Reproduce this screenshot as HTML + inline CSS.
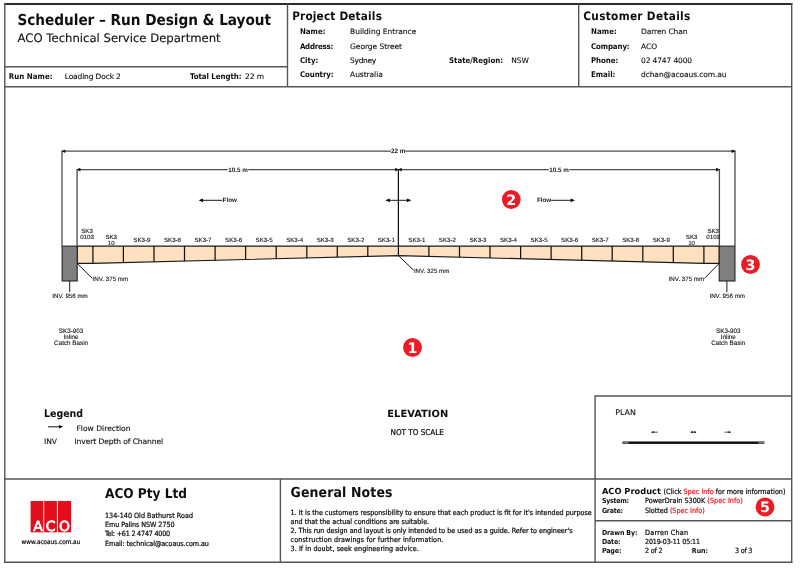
<!DOCTYPE html>
<html lang="en">
<head>
<meta charset="utf-8">
<title>Scheduler – Run Design &amp; Layout</title>
<style>
html,body{margin:0;padding:0;background:#fff;}
body{width:800px;height:568px;position:relative;overflow:hidden;color:#0e0e0e;font-family:"DejaVu Sans","Liberation Sans",sans-serif;}
.sheet{position:absolute;left:0;top:0;width:800px;height:568px;text-rendering:geometricPrecision;will-change:transform;}
header,main,footer{display:block;position:static;margin:0;padding:0;}
.t{position:absolute;white-space:nowrap;line-height:normal;margin:0;padding:0;}
svg{position:absolute;left:0;top:0;}
svg .dt{font-family:"Liberation Sans","DejaVu Sans",sans-serif;fill:#161616;stroke:#161616;stroke-width:0.12px;}
svg .dtb{font-weight:700;stroke-width:0;}
svg .mk{font-family:"DejaVu Sans","Liberation Sans",sans-serif;font-weight:700;fill:#fff;}
svg .lg{font-family:"DejaVu Sans","Liberation Sans",sans-serif;fill:#fff;stroke:#fff;stroke-width:0.7px;}
</style>
</head>
<body>
<div class="sheet">

<svg width="800" height="568" viewBox="0 0 800 568">
<line x1="4.3" y1="4.0" x2="792.4" y2="4.0" stroke="#2b2b2b" stroke-width="2.1"/>
<line x1="4.1" y1="562.3" x2="792.4" y2="562.3" stroke="#555" stroke-width="1.4"/>
<line x1="4.8" y1="3" x2="4.8" y2="563" stroke="#555" stroke-width="1.4"/>
<line x1="791.7" y1="3" x2="791.7" y2="563" stroke="#555" stroke-width="1.4"/>
<line x1="4.8" y1="86.7" x2="791.7" y2="86.7" stroke="#555" stroke-width="1.4"/>
<line x1="4.8" y1="66.7" x2="287.5" y2="66.7" stroke="#555" stroke-width="1.4"/>
<line x1="287.5" y1="4" x2="287.5" y2="86.7" stroke="#555" stroke-width="1.4"/>
<line x1="578.7" y1="4" x2="578.7" y2="86.7" stroke="#555" stroke-width="1.4"/>
<line x1="4.8" y1="479.0" x2="791.7" y2="479.0" stroke="#555" stroke-width="1.4"/>
<line x1="280.4" y1="479.0" x2="280.4" y2="562.3" stroke="#555" stroke-width="1.4"/>
<line x1="595.1" y1="395.3" x2="595.1" y2="562.3" stroke="#555" stroke-width="1.4"/>
<line x1="595.1" y1="396" x2="791.7" y2="396" stroke="#555" stroke-width="1.4"/>
<line x1="595.1" y1="520.8" x2="791.7" y2="520.8" stroke="#555" stroke-width="1.4"/>
<polygon points="77.2,246.1 719.2,246.1 719.2,263.4 703.9,263.4 398.4,255.6 92.9,263.4 77.2,263.4" fill="#fde0c0" stroke="#1a1a1a" stroke-width="1.1" stroke-linejoin="miter"/>
<line x1="367.8" y1="246.1" x2="367.8" y2="256.4" stroke="#111" stroke-width="1.25"/>
<line x1="428.9" y1="246.1" x2="428.9" y2="256.4" stroke="#111" stroke-width="1.25"/>
<line x1="337.3" y1="246.1" x2="337.3" y2="257.2" stroke="#111" stroke-width="1.25"/>
<line x1="459.5" y1="246.1" x2="459.5" y2="257.2" stroke="#111" stroke-width="1.25"/>
<line x1="306.8" y1="246.1" x2="306.8" y2="257.9" stroke="#111" stroke-width="1.25"/>
<line x1="490.0" y1="246.1" x2="490.0" y2="257.9" stroke="#111" stroke-width="1.25"/>
<line x1="276.2" y1="246.1" x2="276.2" y2="258.7" stroke="#111" stroke-width="1.25"/>
<line x1="520.6" y1="246.1" x2="520.6" y2="258.7" stroke="#111" stroke-width="1.25"/>
<line x1="245.6" y1="246.1" x2="245.6" y2="259.5" stroke="#111" stroke-width="1.25"/>
<line x1="551.1" y1="246.1" x2="551.1" y2="259.5" stroke="#111" stroke-width="1.25"/>
<line x1="215.1" y1="246.1" x2="215.1" y2="260.3" stroke="#111" stroke-width="1.25"/>
<line x1="581.7" y1="246.1" x2="581.7" y2="260.3" stroke="#111" stroke-width="1.25"/>
<line x1="184.5" y1="246.1" x2="184.5" y2="261.1" stroke="#111" stroke-width="1.25"/>
<line x1="612.2" y1="246.1" x2="612.2" y2="261.1" stroke="#111" stroke-width="1.25"/>
<line x1="154.0" y1="246.1" x2="154.0" y2="261.8" stroke="#111" stroke-width="1.25"/>
<line x1="642.8" y1="246.1" x2="642.8" y2="261.8" stroke="#111" stroke-width="1.25"/>
<line x1="123.4" y1="246.1" x2="123.4" y2="262.6" stroke="#111" stroke-width="1.25"/>
<line x1="673.3" y1="246.1" x2="673.3" y2="262.6" stroke="#111" stroke-width="1.25"/>
<line x1="92.9" y1="246.1" x2="92.9" y2="263.4" stroke="#111" stroke-width="1.25"/>
<line x1="703.9" y1="246.1" x2="703.9" y2="263.4" stroke="#111" stroke-width="1.25"/>
<rect x="62.1" y="246.1" width="15.1" height="34.9" fill="#7f7f7f" stroke="#1a1a1a" stroke-width="1"/>
<rect x="719.2" y="246.1" width="15.8" height="34.9" fill="#7f7f7f" stroke="#1a1a1a" stroke-width="1"/>
<line x1="62.0" y1="150.6" x2="62.0" y2="246.1" stroke="#4c4c4c" stroke-width="1.3"/>
<line x1="735.0" y1="150.6" x2="735.0" y2="246.1" stroke="#4c4c4c" stroke-width="1.3"/>
<line x1="77.1" y1="169" x2="77.1" y2="246.1" stroke="#4c4c4c" stroke-width="1.3"/>
<line x1="719.4" y1="169" x2="719.4" y2="246.1" stroke="#4c4c4c" stroke-width="1.3"/>
<line x1="398.4" y1="169.6" x2="398.4" y2="255.6" stroke="#111" stroke-width="1.25"/>
<line x1="62.0" y1="151.2" x2="735.0" y2="151.2" stroke="#4c4c4c" stroke-width="1.3"/>
<line x1="77.1" y1="169.6" x2="719.4" y2="169.6" stroke="#4c4c4c" stroke-width="1.3"/>
<polygon points="61.6,151.2 65.3,149.39999999999998 65.3,153.0" fill="#0c0c0c"/>
<polygon points="735.4,151.2 731.7,149.39999999999998 731.7,153.0" fill="#0c0c0c"/>
<polygon points="76.7,169.6 80.4,167.79999999999998 80.4,171.4" fill="#0c0c0c"/>
<polygon points="398.6,169.6 395.1,167.7 395.1,171.5" fill="#0c0c0c"/>
<polygon points="398.2,169.6 401.7,167.7 401.7,171.5" fill="#0c0c0c"/>
<polygon points="719.8,169.6 716.0,167.79999999999998 716.0,171.4" fill="#0c0c0c"/>
<rect x="390.9" y="147.2" width="14.5" height="8" fill="#fff"/>
<text x="398.2" y="152.7" text-anchor="middle" class="dt dtb" font-size="6.3">22 m</text>
<rect x="227.7" y="165.6" width="20.5" height="8" fill="#fff"/>
<text x="238.0" y="171.9" text-anchor="middle" class="dt dtb" font-size="6.3">10.5 m</text>
<rect x="548.8" y="165.6" width="20.5" height="8" fill="#fff"/>
<text x="559.0" y="171.9" text-anchor="middle" class="dt dtb" font-size="6.3">10.5 m</text>
<line x1="200" y1="200.3" x2="222.3" y2="200.3" stroke="#1a1a1a" stroke-width="1"/>
<polygon points="198.6,200.3 203.0,198.4 203.0,202.20000000000002" fill="#0c0c0c"/>
<text x="222.6" y="202.3" class="dt dtb" font-size="6.3">Flow</text>
<line x1="551.2" y1="200.3" x2="573" y2="200.3" stroke="#1a1a1a" stroke-width="1"/>
<polygon points="575.0,200.3 570.6,198.4 570.6,202.20000000000002" fill="#0c0c0c"/>
<text x="536.9" y="202.3" class="dt dtb" font-size="6.3">Flow</text>
<line x1="387" y1="200.3" x2="410" y2="200.3" stroke="#1a1a1a" stroke-width="1"/>
<polygon points="385.4,200.3 389.8,198.4 389.8,202.20000000000002" fill="#0c0c0c"/>
<polygon points="411.3,200.3 406.9,198.4 406.9,202.20000000000002" fill="#0c0c0c"/>
<text x="386.3" y="242.3" text-anchor="middle" class="dt" font-size="6.15">SK3-1</text>
<text x="416.9" y="242.3" text-anchor="middle" class="dt" font-size="6.15">SK3-1</text>
<text x="355.8" y="242.3" text-anchor="middle" class="dt" font-size="6.15">SK3-2</text>
<text x="447.4" y="242.3" text-anchor="middle" class="dt" font-size="6.15">SK3-2</text>
<text x="325.2" y="242.3" text-anchor="middle" class="dt" font-size="6.15">SK3-3</text>
<text x="478.0" y="242.3" text-anchor="middle" class="dt" font-size="6.15">SK3-3</text>
<text x="294.7" y="242.3" text-anchor="middle" class="dt" font-size="6.15">SK3-4</text>
<text x="508.5" y="242.3" text-anchor="middle" class="dt" font-size="6.15">SK3-4</text>
<text x="264.1" y="242.3" text-anchor="middle" class="dt" font-size="6.15">SK3-5</text>
<text x="539.1" y="242.3" text-anchor="middle" class="dt" font-size="6.15">SK3-5</text>
<text x="233.6" y="242.3" text-anchor="middle" class="dt" font-size="6.15">SK3-6</text>
<text x="569.6" y="242.3" text-anchor="middle" class="dt" font-size="6.15">SK3-6</text>
<text x="203.0" y="242.3" text-anchor="middle" class="dt" font-size="6.15">SK3-7</text>
<text x="600.2" y="242.3" text-anchor="middle" class="dt" font-size="6.15">SK3-7</text>
<text x="172.5" y="242.3" text-anchor="middle" class="dt" font-size="6.15">SK3-8</text>
<text x="630.7" y="242.3" text-anchor="middle" class="dt" font-size="6.15">SK3-8</text>
<text x="141.9" y="242.3" text-anchor="middle" class="dt" font-size="6.15">SK3-9</text>
<text x="661.3" y="242.3" text-anchor="middle" class="dt" font-size="6.15">SK3-9</text>
<text x="111.2" y="238.6" text-anchor="middle" class="dt" font-size="6.15">SK3</text>
<text x="111.2" y="244.5" text-anchor="middle" class="dt" font-size="6.15">10</text>
<text x="87.0" y="232.7" text-anchor="middle" class="dt" font-size="6.15">SK3</text>
<text x="87.0" y="238.6" text-anchor="middle" class="dt" font-size="6.15">0103</text>
<text x="691.6" y="238.6" text-anchor="middle" class="dt" font-size="6.15">SK3</text>
<text x="691.6" y="244.5" text-anchor="middle" class="dt" font-size="6.15">10</text>
<text x="713.2" y="232.7" text-anchor="middle" class="dt" font-size="6.15">SK3</text>
<text x="713.2" y="238.6" text-anchor="middle" class="dt" font-size="6.15">0103</text>
<polyline points="398.4,255.6 413.7,270.3" fill="none" stroke="#1a1a1a" stroke-width="1"/>
<text x="413.9" y="272.6" class="dt" font-size="6.2">INV. 325 mm</text>
<polyline points="77.2,263.4 92.4,278.5" fill="none" stroke="#1a1a1a" stroke-width="1"/>
<text x="92.6" y="280.8" class="dt" font-size="6.2">INV. 375 mm</text>
<polyline points="719.2,263.4 704.4,278.5" fill="none" stroke="#1a1a1a" stroke-width="1"/>
<text x="704.2" y="280.8" text-anchor="end" class="dt" font-size="6.2">INV. 375 mm</text>
<line x1="69.7" y1="281" x2="69.7" y2="292" stroke="#1a1a1a" stroke-width="1"/>
<text x="70.0" y="297.5" text-anchor="middle" class="dt" font-size="6.2">INV. 956 mm</text>
<text x="71.1" y="333.2" text-anchor="middle" class="dt" font-size="6.3">SK3-903</text>
<text x="71.1" y="339.3" text-anchor="middle" class="dt" font-size="6.3">Inline</text>
<text x="71.1" y="345.4" text-anchor="middle" class="dt" font-size="6.3">Catch Basin</text>
<line x1="726.9" y1="281" x2="726.9" y2="292" stroke="#1a1a1a" stroke-width="1"/>
<text x="727.2" y="297.5" text-anchor="middle" class="dt" font-size="6.2">INV. 956 mm</text>
<text x="728.3" y="333.2" text-anchor="middle" class="dt" font-size="6.3">SK3-903</text>
<text x="728.3" y="339.3" text-anchor="middle" class="dt" font-size="6.3">Inline</text>
<text x="728.3" y="345.4" text-anchor="middle" class="dt" font-size="6.3">Catch Basin</text>
<circle cx="412.5" cy="347.5" r="9.4" fill="#ea1c26"/>
<text x="412.5" y="352.8" text-anchor="middle" class="mk" font-size="14.3">1</text>
<circle cx="511.3" cy="199.5" r="9.4" fill="#ea1c26"/>
<text x="511.3" y="204.8" text-anchor="middle" class="mk" font-size="14.3">2</text>
<circle cx="750.5" cy="264.5" r="9.4" fill="#ea1c26"/>
<text x="750.5" y="269.8" text-anchor="middle" class="mk" font-size="14.3">3</text>
<circle cx="765" cy="507" r="9.4" fill="#ea1c26"/>
<text x="765" y="512.3" text-anchor="middle" class="mk" font-size="14.3">5</text>
<line x1="48" y1="426.8" x2="60" y2="426.8" stroke="#111" stroke-width="1"/>
<polygon points="63.2,426.8 59.0,425.0 59.0,428.6" fill="#0c0c0c"/>
<rect x="622.5" y="441.5" width="141.8" height="2.4" fill="#0a0a0a"/>
<rect x="622.5" y="441.7" width="6" height="2" fill="#777"/><rect x="758.3" y="441.7" width="6" height="2" fill="#777"/>
<line x1="651.8000000000001" y1="432.15" x2="657.9" y2="432.15" stroke="#333" stroke-width="0.9"/>
<polygon points="651.2,432.15 653.5,431.09999999999997 653.5,433.2" fill="#0c0c0c"/>
<line x1="690.9" y1="432.15" x2="695.9" y2="432.15" stroke="#333" stroke-width="0.9"/>
<polygon points="690.3,432.15 692.6,431.09999999999997 692.6,433.2" fill="#0c0c0c"/>
<polygon points="696.5,432.15 694.2,431.09999999999997 694.2,433.2" fill="#0c0c0c"/>
<line x1="724.6" y1="432.15" x2="730.4" y2="432.15" stroke="#333" stroke-width="0.9"/>
<polygon points="731.0,432.15 728.7,431.09999999999997 728.7,433.2" fill="#0c0c0c"/>
<rect x="30.6" y="501" width="12.7" height="31.3" fill="#e30d1c"/>
<rect x="44.2" y="501" width="12.7" height="31.3" fill="#e30d1c"/>
<rect x="57.9" y="501" width="13.2" height="31.3" fill="#e30d1c"/>
<text x="38.0" y="531.0" text-anchor="middle" class="lg" font-size="13.9">A</text>
<text x="50.7" y="531.0" text-anchor="middle" class="lg" font-size="13.9">C</text>
<text x="64.5" y="531.0" text-anchor="middle" class="lg" font-size="13.9">O</text>
</svg>

<header>
<span class="t" style="left:17.50px;top:11.00px;font-family:'DejaVu Sans Condensed','DejaVu Sans','Liberation Sans',sans-serif;font-size:15.2px;font-stretch:condensed;font-weight:700;letter-spacing:-0.035px;">Scheduler – Run Design &amp; Layout</span>
<span class="t" style="left:17.60px;top:31.00px;font-family:'DejaVu Sans','Liberation Sans',sans-serif;font-size:11.65px;-webkit-text-stroke:0.12px;">ACO Technical Service Department</span>
<span class="t" style="left:8.75px;top:72.00px;font-family:'DejaVu Sans Condensed','DejaVu Sans','Liberation Sans',sans-serif;font-size:7.8px;font-stretch:condensed;font-weight:700;letter-spacing:0.065px;">Run Name:</span>
<span class="t" style="left:64.75px;top:72.00px;font-family:'DejaVu Sans','Liberation Sans',sans-serif;font-size:7.5px;letter-spacing:-0.141px;-webkit-text-stroke:0.12px;">Loading Dock 2</span>
<span class="t" style="left:190.00px;top:72.00px;font-family:'DejaVu Sans Condensed','DejaVu Sans','Liberation Sans',sans-serif;font-size:7.8px;font-stretch:condensed;font-weight:700;letter-spacing:-0.031px;">Total Length:</span>
<span class="t" style="left:245.00px;top:72.00px;font-family:'DejaVu Sans','Liberation Sans',sans-serif;font-size:7.5px;letter-spacing:-0.059px;-webkit-text-stroke:0.12px;">22 m</span>
<span class="t" style="left:292.20px;top:9.00px;font-family:'DejaVu Sans Condensed','DejaVu Sans','Liberation Sans',sans-serif;font-size:11.7px;font-stretch:condensed;font-weight:700;letter-spacing:0.179px;">Project Details</span>
<span class="t" style="left:299.90px;top:27.00px;font-family:'DejaVu Sans Condensed','DejaVu Sans','Liberation Sans',sans-serif;font-size:7.8px;font-stretch:condensed;font-weight:700;letter-spacing:0.043px;">Name:</span>
<span class="t" style="left:350.10px;top:27.00px;font-family:'DejaVu Sans','Liberation Sans',sans-serif;font-size:7.5px;letter-spacing:-0.013px;-webkit-text-stroke:0.12px;">Building Entrance</span>
<span class="t" style="left:299.90px;top:42.00px;font-family:'DejaVu Sans Condensed','DejaVu Sans','Liberation Sans',sans-serif;font-size:7.8px;font-stretch:condensed;font-weight:700;letter-spacing:-0.207px;">Address:</span>
<span class="t" style="left:350.10px;top:42.00px;font-family:'DejaVu Sans','Liberation Sans',sans-serif;font-size:7.5px;letter-spacing:-0.055px;-webkit-text-stroke:0.12px;">George Street</span>
<span class="t" style="left:299.90px;top:56.00px;font-family:'DejaVu Sans Condensed','DejaVu Sans','Liberation Sans',sans-serif;font-size:7.8px;font-stretch:condensed;font-weight:700;letter-spacing:0.041px;">City:</span>
<span class="t" style="left:350.10px;top:56.00px;font-family:'DejaVu Sans','Liberation Sans',sans-serif;font-size:7.5px;letter-spacing:-0.314px;-webkit-text-stroke:0.12px;">Sydney</span>
<span class="t" style="left:299.90px;top:70.00px;font-family:'DejaVu Sans Condensed','DejaVu Sans','Liberation Sans',sans-serif;font-size:7.8px;font-stretch:condensed;font-weight:700;letter-spacing:-0.057px;">Country:</span>
<span class="t" style="left:350.10px;top:70.00px;font-family:'DejaVu Sans','Liberation Sans',sans-serif;font-size:7.5px;letter-spacing:-0.065px;-webkit-text-stroke:0.12px;">Australia</span>
<span class="t" style="left:449.00px;top:56.00px;font-family:'DejaVu Sans Condensed','DejaVu Sans','Liberation Sans',sans-serif;font-size:7.8px;font-stretch:condensed;font-weight:700;">State/Region:</span>
<span class="t" style="left:511.20px;top:56.00px;font-family:'DejaVu Sans','Liberation Sans',sans-serif;font-size:7.5px;-webkit-text-stroke:0.12px;">NSW</span>
<span class="t" style="left:583.30px;top:9.00px;font-family:'DejaVu Sans Condensed','DejaVu Sans','Liberation Sans',sans-serif;font-size:11.7px;font-stretch:condensed;font-weight:700;letter-spacing:0.324px;">Customer Details</span>
<span class="t" style="left:590.90px;top:27.00px;font-family:'DejaVu Sans Condensed','DejaVu Sans','Liberation Sans',sans-serif;font-size:7.8px;font-stretch:condensed;font-weight:700;letter-spacing:0.123px;">Name:</span>
<span class="t" style="left:641.00px;top:27.00px;font-family:'DejaVu Sans','Liberation Sans',sans-serif;font-size:7.5px;letter-spacing:-0.077px;-webkit-text-stroke:0.12px;">Darren Chan</span>
<span class="t" style="left:590.90px;top:42.00px;font-family:'DejaVu Sans Condensed','DejaVu Sans','Liberation Sans',sans-serif;font-size:7.8px;font-stretch:condensed;font-weight:700;letter-spacing:-0.088px;">Company:</span>
<span class="t" style="left:641.00px;top:42.00px;font-family:'DejaVu Sans','Liberation Sans',sans-serif;font-size:7.5px;letter-spacing:-0.047px;-webkit-text-stroke:0.12px;">ACO</span>
<span class="t" style="left:590.90px;top:56.00px;font-family:'DejaVu Sans Condensed','DejaVu Sans','Liberation Sans',sans-serif;font-size:7.8px;font-stretch:condensed;font-weight:700;">Phone:</span>
<span class="t" style="left:641.00px;top:56.00px;font-family:'DejaVu Sans','Liberation Sans',sans-serif;font-size:7.5px;letter-spacing:-0.125px;-webkit-text-stroke:0.12px;">02 4747 4000</span>
<span class="t" style="left:590.90px;top:70.00px;font-family:'DejaVu Sans Condensed','DejaVu Sans','Liberation Sans',sans-serif;font-size:7.8px;font-stretch:condensed;font-weight:700;letter-spacing:0.008px;">Email:</span>
<span class="t" style="left:641.00px;top:70.00px;font-family:'DejaVu Sans','Liberation Sans',sans-serif;font-size:7.5px;letter-spacing:-0.089px;-webkit-text-stroke:0.12px;">dchan@acoaus.com.au</span>
</header>
<main>
<span class="t" style="left:44.00px;top:408.00px;font-family:'DejaVu Sans Condensed','DejaVu Sans','Liberation Sans',sans-serif;font-size:10.5px;font-stretch:condensed;font-weight:700;letter-spacing:-0.016px;">Legend</span>
<span class="t" style="left:76.50px;top:424.00px;font-family:'DejaVu Sans','Liberation Sans',sans-serif;font-size:7.6px;-webkit-text-stroke:0.12px;">Flow Direction</span>
<span class="t" style="left:44.00px;top:437.00px;font-family:'DejaVu Sans','Liberation Sans',sans-serif;font-size:7.6px;letter-spacing:-0.042px;-webkit-text-stroke:0.12px;">INV</span>
<span class="t" style="left:74.50px;top:437.00px;font-family:'DejaVu Sans','Liberation Sans',sans-serif;font-size:7.6px;letter-spacing:-0.117px;-webkit-text-stroke:0.12px;">Invert Depth of Channel</span>
<span class="t" style="left:387.30px;top:409.00px;font-family:'DejaVu Sans','Liberation Sans',sans-serif;font-size:9.9px;font-weight:700;letter-spacing:0.022px;">ELEVATION</span>
<span class="t" style="left:390.50px;top:428.00px;font-family:'DejaVu Sans Condensed','DejaVu Sans','Liberation Sans',sans-serif;font-size:8.0px;font-stretch:condensed;letter-spacing:0.008px;-webkit-text-stroke:0.22px;">NOT TO SCALE</span>
<span class="t" style="left:615.20px;top:408.00px;font-family:'DejaVu Sans','Liberation Sans',sans-serif;font-size:7.9px;letter-spacing:-0.010px;-webkit-text-stroke:0.12px;">PLAN</span>
</main>
<footer>
<span class="t" style="left:105.00px;top:486.00px;font-family:'DejaVu Sans Condensed','DejaVu Sans','Liberation Sans',sans-serif;font-size:13.5px;font-stretch:condensed;font-weight:700;">ACO Pty Ltd</span>
<span class="t" style="left:105.00px;top:511.00px;font-family:'DejaVu Sans Condensed','DejaVu Sans','Liberation Sans',sans-serif;font-size:7.15px;font-stretch:condensed;letter-spacing:0.021px;-webkit-text-stroke:0.22px;">134-140 Old Bathurst Road</span>
<span class="t" style="left:105.00px;top:520.00px;font-family:'DejaVu Sans Condensed','DejaVu Sans','Liberation Sans',sans-serif;font-size:7.15px;font-stretch:condensed;letter-spacing:-0.057px;-webkit-text-stroke:0.22px;">Emu Palins NSW 2750</span>
<span class="t" style="left:105.00px;top:529.00px;font-family:'DejaVu Sans Condensed','DejaVu Sans','Liberation Sans',sans-serif;font-size:7.15px;font-stretch:condensed;letter-spacing:-0.205px;-webkit-text-stroke:0.22px;">Tel: +61 2 4747 4000</span>
<span class="t" style="left:105.00px;top:539.00px;font-family:'DejaVu Sans Condensed','DejaVu Sans','Liberation Sans',sans-serif;font-size:7.15px;font-stretch:condensed;letter-spacing:-0.082px;-webkit-text-stroke:0.22px;">Email: technical@acoaus.com.au</span>
<span class="t" style="left:21.60px;top:538.00px;font-family:'DejaVu Sans Condensed','DejaVu Sans','Liberation Sans',sans-serif;font-size:6.37px;font-stretch:condensed;letter-spacing:0.007px;-webkit-text-stroke:0.22px;">www.acoaus.com.au</span>
<span class="t" style="left:290.50px;top:485.00px;font-family:'DejaVu Sans Condensed','DejaVu Sans','Liberation Sans',sans-serif;font-size:13.9px;font-stretch:condensed;font-weight:700;letter-spacing:0.140px;">General Notes</span>
<span class="t" style="left:290.50px;top:508.00px;font-family:'DejaVu Sans Condensed','DejaVu Sans','Liberation Sans',sans-serif;font-size:7.15px;font-stretch:condensed;-webkit-text-stroke:0.22px;">1. It is the customers responsibility to ensure that each product is fit for it&#x27;s intended purpose</span>
<span class="t" style="left:290.50px;top:517.00px;font-family:'DejaVu Sans Condensed','DejaVu Sans','Liberation Sans',sans-serif;font-size:7.15px;font-stretch:condensed;-webkit-text-stroke:0.22px;">and that the actual conditions are suitable.</span>
<span class="t" style="left:290.50px;top:526.00px;font-family:'DejaVu Sans Condensed','DejaVu Sans','Liberation Sans',sans-serif;font-size:7.15px;font-stretch:condensed;letter-spacing:-0.018px;-webkit-text-stroke:0.22px;">2. This run design and layout is only intended to be used as a guide. Refer to engineer&#x27;s</span>
<span class="t" style="left:290.50px;top:535.00px;font-family:'DejaVu Sans Condensed','DejaVu Sans','Liberation Sans',sans-serif;font-size:7.15px;font-stretch:condensed;letter-spacing:0.122px;-webkit-text-stroke:0.22px;">construction drawings for further information.</span>
<span class="t" style="left:290.50px;top:544.00px;font-family:'DejaVu Sans Condensed','DejaVu Sans','Liberation Sans',sans-serif;font-size:7.15px;font-stretch:condensed;letter-spacing:0.071px;-webkit-text-stroke:0.22px;">3. If in doubt, seek engineering advice.</span>
<span class="t" style="left:601.90px;top:486.00px;font-family:'DejaVu Sans','Liberation Sans',sans-serif;font-size:8.3px;font-weight:700;">ACO Product</span>
<span class="t" style="left:663.50px;top:487.00px;font-family:'DejaVu Sans Condensed','DejaVu Sans','Liberation Sans',sans-serif;font-size:7.2px;font-stretch:condensed;letter-spacing:0.009px;-webkit-text-stroke:0.22px;">(Click <span style="color:#ea1c26">Spec Info</span> for more information)</span>
<span class="t" style="left:601.90px;top:497.00px;font-family:'DejaVu Sans Condensed','DejaVu Sans','Liberation Sans',sans-serif;font-size:7.0px;font-stretch:condensed;font-weight:700;letter-spacing:-0.267px;">System:</span>
<span class="t" style="left:645.00px;top:496.00px;font-family:'DejaVu Sans Condensed','DejaVu Sans','Liberation Sans',sans-serif;font-size:7.2px;font-stretch:condensed;letter-spacing:0.032px;-webkit-text-stroke:0.22px;">PowerDrain S300K <span style="color:#ea1c26">(Spec Info)</span></span>
<span class="t" style="left:601.90px;top:507.00px;font-family:'DejaVu Sans Condensed','DejaVu Sans','Liberation Sans',sans-serif;font-size:7.0px;font-stretch:condensed;font-weight:700;letter-spacing:-0.238px;">Grate:</span>
<span class="t" style="left:645.00px;top:506.00px;font-family:'DejaVu Sans Condensed','DejaVu Sans','Liberation Sans',sans-serif;font-size:7.2px;font-stretch:condensed;letter-spacing:-0.024px;-webkit-text-stroke:0.22px;">Slotted <span style="color:#ea1c26">(Spec Info)</span></span>
<span class="t" style="left:601.90px;top:529.00px;font-family:'DejaVu Sans Condensed','DejaVu Sans','Liberation Sans',sans-serif;font-size:7.0px;font-stretch:condensed;font-weight:700;letter-spacing:-0.102px;">Drawn By:</span>
<span class="t" style="left:645.10px;top:528.00px;font-family:'DejaVu Sans Condensed','DejaVu Sans','Liberation Sans',sans-serif;font-size:7.2px;font-stretch:condensed;letter-spacing:0.229px;-webkit-text-stroke:0.22px;">Darren Chan</span>
<span class="t" style="left:601.90px;top:538.00px;font-family:'DejaVu Sans Condensed','DejaVu Sans','Liberation Sans',sans-serif;font-size:7.0px;font-stretch:condensed;font-weight:700;letter-spacing:-0.156px;">Date:</span>
<span class="t" style="left:645.10px;top:538.00px;font-family:'DejaVu Sans Condensed','DejaVu Sans','Liberation Sans',sans-serif;font-size:7.0px;font-stretch:condensed;letter-spacing:-0.128px;-webkit-text-stroke:0.22px;">2019-03-11 05:11</span>
<span class="t" style="left:601.90px;top:547.00px;font-family:'DejaVu Sans Condensed','DejaVu Sans','Liberation Sans',sans-serif;font-size:7.0px;font-stretch:condensed;font-weight:700;letter-spacing:-0.097px;">Page:</span>
<span class="t" style="left:645.10px;top:546.00px;font-family:'DejaVu Sans Condensed','DejaVu Sans','Liberation Sans',sans-serif;font-size:7.2px;font-stretch:condensed;letter-spacing:-0.227px;-webkit-text-stroke:0.22px;">2 of 2</span>
<span class="t" style="left:691.80px;top:547.00px;font-family:'DejaVu Sans Condensed','DejaVu Sans','Liberation Sans',sans-serif;font-size:7.0px;font-stretch:condensed;font-weight:700;letter-spacing:-0.011px;">Run:</span>
<span class="t" style="left:735.10px;top:546.00px;font-family:'DejaVu Sans Condensed','DejaVu Sans','Liberation Sans',sans-serif;font-size:7.2px;font-stretch:condensed;letter-spacing:-0.260px;-webkit-text-stroke:0.22px;">3 of 3</span>
</footer>
</div>
</body>
</html>
